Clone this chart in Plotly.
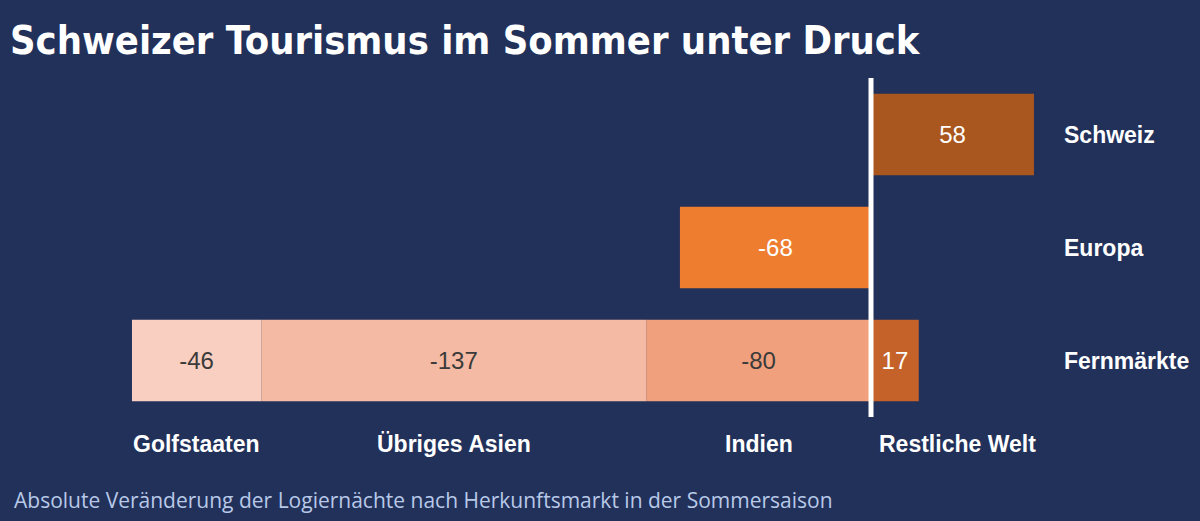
import plotly.graph_objects as go

# Gruppen (y-Achse) und Segmente
groups = ["Schweiz", "Europa", "Fernmärkte"]

schweiz_val = 58
europa_val = -68

# Fernmärkte-Segmente, von der Nulllinie nach aussen
fern_labels = ["Indien", "Übriges Asien", "Golfstaaten"]
fern_values = [-80, -137, -46]
fern_colors = ["#F0A07C", "#F5BAA3", "#F8CFC0"]

rest_label = "Restliche Welt"
rest_value = 17

bg = "#22315A"
val_font = "Liberation Sans"
lab_font = dict(color="white", size=23, family="Liberation Sans", weight="bold")

fig = go.Figure()

fig.add_trace(go.Bar(
    y=["Schweiz"], x=[schweiz_val], orientation="h",
    marker=dict(color="#A9561F", line=dict(width=0)),
    text=[schweiz_val], textposition="inside", insidetextanchor="middle",
    textfont=dict(color="white", size=24, family=val_font),
    textangle=0, showlegend=False,
))
fig.add_trace(go.Bar(
    y=["Europa"], x=[europa_val], orientation="h",
    marker=dict(color="#EE7D30", line=dict(width=0)),
    text=[europa_val], textposition="inside", insidetextanchor="middle",
    textfont=dict(color="white", size=24, family=val_font),
    textangle=0, showlegend=False,
))
for lab, val, col in zip(fern_labels, fern_values, fern_colors):
    fig.add_trace(go.Bar(
        y=["Fernmärkte"], x=[val], orientation="h", name=lab,
        marker=dict(color=col, line=dict(width=0)),
        text=[val], textposition="inside", insidetextanchor="middle",
        textfont=dict(color="#3B3B3B", size=24, family=val_font),
        textangle=0, showlegend=False,
    ))
fig.add_trace(go.Bar(
    y=["Fernmärkte"], x=[rest_value], orientation="h", name=rest_label,
    marker=dict(color="#C4622A", line=dict(width=0)),
    text=[rest_value], textposition="inside", insidetextanchor="middle",
    textfont=dict(color="white", size=24, family=val_font),
    textangle=0, showlegend=False,
))

# Nulllinie
fig.add_shape(type="line", x0=0, x1=0, xref="x", y0=0, y1=1, yref="paper",
              line=dict(color="white", width=5), layer="above")

# Gruppenlabels rechts
for g in groups:
    fig.add_annotation(x=1062 / 1200, xref="paper", y=g, yref="y",
                       text=g, showarrow=False, xanchor="left", font=lab_font)

# Segmentlabels unten
cum = 0
for lab, val in zip(fern_labels, fern_values):
    center = cum + val / 2
    cum += val
    fig.add_annotation(x=center, xref="x", y=0, yref="paper", yshift=-27,
                       text=lab, showarrow=False, xanchor="center", yanchor="middle",
                       font=lab_font)
fig.add_annotation(x=0, xref="x", y=0, yref="paper", yshift=-27, xshift=6,
                   text=rest_label, showarrow=False, xanchor="left", yanchor="middle",
                   font=lab_font)

# Untertitel
fig.add_annotation(x=12 / 1200, xref="paper", y=0, yref="paper", yshift=-83,
                   text="Absolute Veränderung der Logiernächte nach Herkunftsmarkt in der Sommersaison",
                   showarrow=False, xanchor="left", yanchor="middle",
                   font=dict(color="#B8C9E8", size=21, family="Open Sans"))

px_per_unit = 2.81
fig.update_layout(
    width=1200, height=521,
    paper_bgcolor=bg, plot_bgcolor=bg,
    barmode="relative", bargap=0.28,
    margin=dict(l=0, r=0, t=78, b=104),
    title=dict(text="Schweizer Tourismus im Sommer unter Druck",
               x=10 / 1200, xanchor="left", y=1 - 40 / 521, yanchor="middle",
               font=dict(color="white", size=39.5, family="DejaVu Sans Condensed, Roboto", weight="bold")),
    xaxis=dict(range=[-871 / px_per_unit, 329 / px_per_unit], showgrid=False, zeroline=False,
               showticklabels=False, fixedrange=True),
    yaxis=dict(categoryorder="array", categoryarray=groups[::-1],
               showgrid=False, zeroline=False, showticklabels=False, fixedrange=True),
)

fig.write_html("out.html", config={"displayModeBar": False},
               post_script="document.body.style.margin='0';")
